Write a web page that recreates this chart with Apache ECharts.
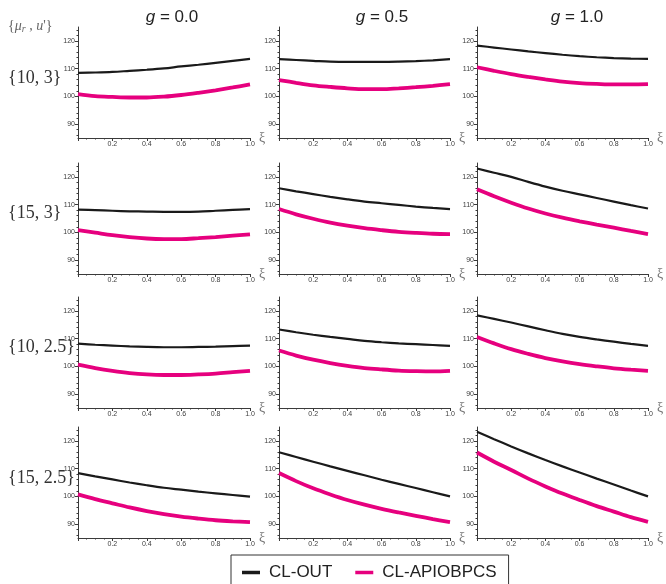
<!DOCTYPE html>
<html>
<head>
<meta charset="utf-8">
<script src="https://cdn.jsdelivr.net/npm/echarts@6/dist/echarts.min.js"></script>
<style>html,body{margin:0;padding:0;background:#fff}#c{width:666px;height:584px}</style>
</head>
<body>
<div id="c"></div>
<script>
// ---- data ----
const xi = [0, 0.1, 0.2, 0.3, 0.4, 0.5, 0.6, 0.7, 0.8, 0.9, 1.0];
const xTicks = [0.2, 0.4, 0.6, 0.8, 1.0];
const yTicks = [90, 100, 110, 120];
const gTitles = ['0.0', '0.5', '1.0'];
const rowLabels = ['{10, 3}', '{15, 3}', '{10, 2.5}', '{15, 2.5}'];
const seriesNames = ['CL-OUT', 'CL-APIOBPCS'];

// row {10,3}
const out_10_3 = [
  [108.5, 108.6, 108.8, 109.2, 109.6, 110.1, 110.8, 111.4, 112.1, 112.8, 113.5],
  [113.4, 113.1, 112.8, 112.5, 112.4, 112.4, 112.4, 112.5, 112.7, 113.0, 113.4],
  [118.3, 117.6, 116.9, 116.2, 115.6, 115.0, 114.5, 114.1, 113.8, 113.6, 113.5]
];
const apio_10_3 = [
  [100.8, 100.1, 99.8, 99.6, 99.6, 99.9, 100.5, 101.3, 102.2, 103.2, 104.3],
  [105.9, 104.9, 104.0, 103.4, 102.9, 102.6, 102.6, 102.9, 103.3, 103.8, 104.4],
  [110.5, 109.2, 108.0, 107.0, 106.1, 105.3, 104.8, 104.5, 104.3, 104.3, 104.4]
];
// row {15,3}
const out_15_3 = [
  [108.2, 108.0, 107.8, 107.6, 107.5, 107.4, 107.4, 107.5, 107.8, 108.1, 108.4],
  [115.9, 114.8, 113.8, 112.8, 111.9, 111.1, 110.5, 109.9, 109.3, 108.8, 108.4],
  [123.0, 121.5, 120.0, 118.2, 116.5, 115.0, 113.7, 112.4, 111.1, 109.8, 108.6]
];
const apio_15_3 = [
  [100.8, 99.9, 99.0, 98.3, 97.8, 97.6, 97.6, 97.9, 98.3, 98.8, 99.3],
  [108.4, 106.5, 104.9, 103.5, 102.4, 101.5, 100.8, 100.2, 99.8, 99.5, 99.4],
  [115.5, 113.0, 110.7, 108.6, 106.8, 105.3, 104.0, 102.8, 101.7, 100.5, 99.4]
];
// row {10,2.5}
const out_10_25 = [
  [108.2, 107.8, 107.5, 107.2, 107.0, 106.9, 106.9, 107.0, 107.1, 107.3, 107.5],
  [113.3, 112.3, 111.4, 110.6, 109.9, 109.2, 108.7, 108.3, 108.0, 107.7, 107.4],
  [118.4, 117.1, 115.8, 114.4, 113.0, 111.7, 110.6, 109.7, 108.9, 108.1, 107.4]
];
const apio_10_25 = [
  [100.6, 99.4, 98.4, 97.6, 97.1, 96.9, 96.9, 97.1, 97.4, 97.9, 98.4],
  [105.7, 103.9, 102.4, 101.2, 100.2, 99.4, 98.9, 98.5, 98.3, 98.2, 98.4],
  [110.6, 108.3, 106.2, 104.5, 103.0, 101.8, 100.8, 100.0, 99.3, 98.8, 98.4]
];
// row {15,2.5}
const out_15_25 = [
  [108.4, 107.2, 106.1, 105.0, 104.0, 103.1, 102.4, 101.7, 101.1, 100.5, 99.9],
  [115.9, 114.2, 112.5, 110.8, 109.2, 107.6, 106.0, 104.5, 103.0, 101.5, 100.0],
  [123.3, 120.6, 118.0, 115.5, 113.1, 110.8, 108.6, 106.4, 104.3, 102.1, 100.0]
];
const apio_15_25 = [
  [100.7, 99.0, 97.5, 96.0, 94.7, 93.6, 92.7, 92.0, 91.4, 91.0, 90.7],
  [108.4, 105.5, 102.9, 100.7, 98.7, 97.0, 95.5, 94.2, 93.0, 91.8, 90.7],
  [115.8, 112.5, 109.5, 106.4, 103.6, 101.0, 98.7, 96.5, 94.5, 92.5, 90.8]
];

const outRows = [out_10_3, out_15_3, out_10_25, out_15_25];
const apioRows = [apio_10_3, apio_15_3, apio_10_25, apio_15_25];

// ---- layout ----
const colLeft = [78, 279, 477];
const colWidth = [172, 171, 171];
const rowTop = [27, 163, 297, 427];
const rowHeight = 111;
const yMinorTicks = [];
for (let v = 86; v <= 124; v += 2) if (v % 10 !== 0) yMinorTicks.push(v);

const axisColor = '#3a3a3a';
const labelColor = '#3c3c3c';

const grid = [], xAxis = [], yAxis = [], series = [];
let gi = 0;
for (let r = 0; r < 4; r++) {
  for (let c = 0; c < 3; c++) {
    grid.push({left: colLeft[c], top: rowTop[r], width: colWidth[c], height: rowHeight});
    xAxis.push({
      type: 'value', gridIndex: gi, min: 0, max: 1, interval: 0.2,
      axisLine: {show: true, onZero: false, lineStyle: {color: axisColor, width: 1}},
      axisTick: {show: true, length: 3, lineStyle: {color: axisColor}},
      minorTick: {show: true, splitNumber: 4, length: 1.5, lineStyle: {color: axisColor}},
      splitLine: {show: false},
      axisLabel: {
        fontSize: 7, color: labelColor, margin: 3, fontFamily: 'Liberation Sans',
        showMinLabel: true, showMaxLabel: true,
        formatter: v => (xTicks.some(t => Math.abs(t - v) < 1e-9) ? v.toFixed(1) : '')
      },
      name: 'ξ', nameLocation: 'end', nameGap: 9,
      nameTextStyle: {fontSize: 14, color: '#777', fontFamily: 'Liberation Serif', verticalAlign: 'middle', padding: [4, 0, 0, 0]}
    });
    yAxis.push({
      type: 'value', gridIndex: gi, min: 85, max: 125,
      axisLine: {show: true, onZero: false, lineStyle: {color: axisColor, width: 1}},
      axisTick: {show: true, length: 3, customValues: yTicks, lineStyle: {color: axisColor}},
      axisLabel: {fontSize: 7, color: labelColor, margin: 3, fontFamily: 'Liberation Sans', customValues: yTicks},
      splitLine: {show: false}
    });
    yAxis.push({
      type: 'value', gridIndex: gi, min: 85, max: 125, position: 'left',
      axisLine: {show: false, onZero: false},
      axisTick: {show: true, length: 1.5, customValues: yMinorTicks, lineStyle: {color: axisColor}},
      axisLabel: {show: false},
      splitLine: {show: false}
    });
    series.push({
      name: seriesNames[0], type: 'line', xAxisIndex: gi, yAxisIndex: 2 * gi,
      data: xi.map((x, k) => [x, outRows[r][c][k]]),
      smooth: 0.35, symbol: 'none', silent: true,
      lineStyle: {color: '#1a1a1a', width: 2.2}, itemStyle: {color: '#1a1a1a'}
    });
    series.push({
      name: seriesNames[1], type: 'line', xAxisIndex: gi, yAxisIndex: 2 * gi,
      data: xi.map((x, k) => [x, apioRows[r][c][k]]),
      smooth: 0.35, symbol: 'none', silent: true,
      lineStyle: {color: '#e6007e', width: 3.8}, itemStyle: {color: '#e6007e'}
    });
    gi++;
  }
}

const titleX = [172, 382, 577];
const rowLabelY = [78, 213, 347, 478];
const graphic = [];
gTitles.forEach((t, c) => {
  graphic.push({
    type: 'text', x: titleX[c], y: 17,
    style: {
      text: '{i|g} = ' + t,
      rich: {i: {fontStyle: 'italic', fontSize: 17, fontFamily: 'Liberation Sans', fill: '#222'}},
      fontSize: 17, fontFamily: 'Liberation Sans', fill: '#222',
      align: 'center', verticalAlign: 'middle', textAlign: 'center', textVerticalAlign: 'middle'
    }
  });
});
rowLabels.forEach((t, r) => {
  graphic.push({
    type: 'text', x: 8, y: rowLabelY[r],
    style: {
      text: t, fontSize: 18, fontFamily: 'Liberation Serif', fill: '#333',
      align: 'left', verticalAlign: 'middle', textAlign: 'left', textVerticalAlign: 'middle'
    }
  });
});
graphic.push({
  type: 'text', x: 8, y: 26,
  style: {
    text: '{b|{}{i|μ}{s|r}{b| , }{i|u}{b|\'}}',
    fontSize: 14, fontFamily: 'Liberation Serif', fill: '#666',
    rich: {
      b: {fontSize: 14, fontFamily: 'Liberation Serif', fill: '#666'},
      i: {fontSize: 14, fontStyle: 'italic', fontFamily: 'Liberation Serif', fill: '#666'},
      s: {fontSize: 10, fontStyle: 'italic', fontFamily: 'Liberation Serif', fill: '#666', verticalAlign: 'bottom', padding: [6, 0, 0, 0]}
    },
    align: 'left', verticalAlign: 'middle', textAlign: 'left', textVerticalAlign: 'middle'
  }
});

const chart = echarts.init(document.getElementById('c'), null, {renderer: 'canvas'});
chart.setOption({
  animation: false,
  backgroundColor: '#fff',
  grid, xAxis, yAxis, series, graphic,
  legend: {
    data: seriesNames.map(n => ({name: n, icon: 'rect'})),
    left: 231, top: 555,
    orient: 'horizontal',
    itemWidth: 18, itemHeight: 3.5, itemGap: 23,
    padding: [9, 12, 14, 11],
    borderColor: '#333', borderWidth: 1,
    textStyle: {fontSize: 17, color: '#222', fontFamily: 'Liberation Sans', padding: [0, 0, 0, 4]}
  }
});
</script>
</body>
</html>
